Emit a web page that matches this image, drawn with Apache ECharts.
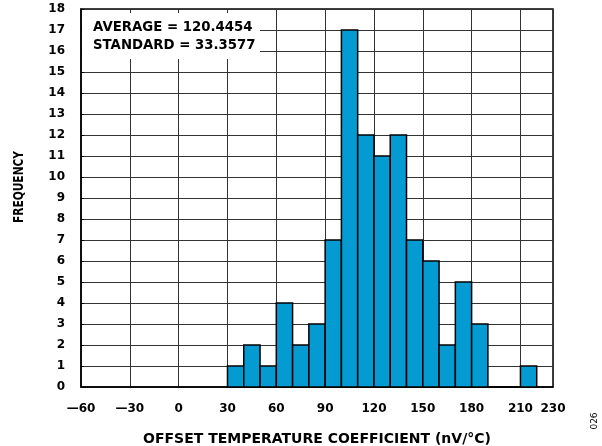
<!DOCTYPE html>
<html><head><meta charset="utf-8">
<script src="https://cdn.jsdelivr.net/npm/echarts@6/dist/echarts.min.js"></script>
<style>html,body{margin:0;padding:0;background:#fff}#c{width:602px;height:446px}</style>
</head><body><div id="c"></div>
<script>
const binStarts = [30,40,50,60,70,80,90,100,110,120,130,140,150,160,170,180,190,200,210];
const binWidth = 10;
const frequency = [1,2,1,4,2,3,7,17,12,11,12,7,6,2,5,3,0,0,1];
const xTicks = [-60,-30,0,30,60,90,120,150,180,210,230];
const statsText = ['AVERAGE = 120.4454','STANDARD = 33.3577'];
const xName = 'OFFSET TEMPERATURE COEFFICIENT (nV/°C)';
const yName = 'FREQUENCY';
const figId = '026';

const data = binStarts.map((s,i)=>[s, s+binWidth, frequency[i]]);
const FONT = '"DejaVu Sans", sans-serif';
const chart = echarts.init(document.getElementById('c'));
chart.setOption({
  animation:false,
  grid:{left:81,right:49,top:9,bottom:59,outerBoundsMode:'none',containLabel:false,show:true,borderColor:'#000',borderWidth:1.5,backgroundColor:'transparent'},
  xAxis:{type:'value',min:-60,max:230,interval:30,
    axisLine:{show:true,onZero:false,lineStyle:{color:'#000',width:1.5}},
    axisTick:{show:false},
    splitLine:{show:true,lineStyle:{color:'#333',width:1}},
    axisLabel:{margin:16,color:'#000',fontFamily:FONT,fontWeight:'bold',fontSize:12,showMaxLabel:true,
      formatter:v=>String(v).replace('-','\u2014')},
    name:xName,nameLocation:'middle',nameGap:45,
    nameTextStyle:{color:'#000',fontFamily:FONT,fontWeight:'bold',fontSize:14}},
  yAxis:{type:'value',min:0,max:18,interval:1,
    axisLine:{show:true,onZero:false,lineStyle:{color:'#000',width:1.5}},
    axisTick:{show:true,inside:true,length:3,lineStyle:{color:'#000'}},
    splitLine:{show:true,lineStyle:{color:'#333',width:1}},
    axisLabel:{margin:16,color:'#000',fontFamily:FONT,fontWeight:'bold',fontSize:12}},
  series:[{type:'custom',data:data,z:5,
    encode:{x:[0,1],y:2},
    renderItem:function(params,api){
      const p0=api.coord([api.value(0),api.value(2)]);
      const p1=api.coord([api.value(1),0]);
      return {type:'rect',shape:{x:p0[0],y:p0[1],width:p1[0]-p0[0],height:p1[1]-p0[1]},
        style:{fill:'#049ad2',stroke:'#000',lineWidth:1.5}};
    }}],
  graphic:[
    {type:'rect',left:82,top:13,shape:{width:178,height:46},style:{fill:'#fff'},z:10},
    {type:'text',left:93,top:21,z:11,style:{text:statsText[0],fill:'#000',font:'bold 13.3px '+FONT}},
    {type:'text',left:93,top:39.5,z:11,style:{text:statsText[1],fill:'#000',font:'bold 13.3px '+FONT}},
    {type:'text',x:19,y:187,rotation:Math.PI/2,scaleX:0.76,z:11,
      style:{text:yName,fill:'#000',font:'bold 14px '+FONT,align:'center',verticalAlign:'middle'}},
    {type:'text',x:594.5,y:421,rotation:Math.PI/2,z:11,
      style:{text:figId,fill:'#000',font:'9px '+FONT,align:'center',verticalAlign:'middle'}}
  ]
});
</script></body></html>
